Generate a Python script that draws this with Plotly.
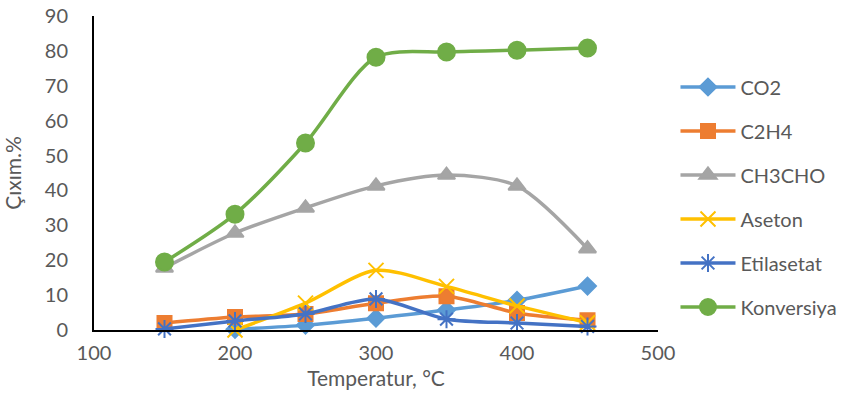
import plotly.graph_objects as go

temps = [150, 200, 250, 300, 350, 400, 450]
co2 = [None, 0.2, 1.4, 3.4, 5.7, 8.5, 12.6]
c2h4 = [2.0, 3.7, 4.6, 7.7, 9.7, 4.9, 2.8]
ch3cho = [17.8, 27.8, 35.0, 41.3, 44.4, 41.3, 23.3]
aseton = [None, 0.0, 7.7, 17.1, 12.5, 6.9, 2.1]
etilasetat = [0.3, 2.6, 4.6, 8.9, 3.1, 2.0, 1.0]
konversiya = [19.5, 33.2, 53.6, 78.2, 79.7, 80.2, 80.8]

series = [
    ("CO2", co2, "#5B9BD5", "diamond", 13),
    ("C2H4", c2h4, "#ED7D31", "square", 14),
    ("CH3CHO", ch3cho, "#A5A5A5", "triangle-up", 15),
    ("Aseton", aseton, "#FFC000", "x-thin-open", 15),
    ("Etilasetat", etilasetat, "#4472C4", "asterisk-open", 15),
    ("Konversiya", konversiya, "#70AD47", "circle", 17),
]

fig = go.Figure()
for i, (name, vals, color, sym, size) in enumerate(series):
    fig.add_trace(go.Scatter(
        x=temps, y=vals, name=name, mode="lines+markers",
        line=dict(color=color, width=3.5, shape="spline", smoothing=0.8),
        marker=dict(symbol=sym, size=size, color=color,
                    line=dict(color=color, width=2)),
        cliponaxis=False, connectgaps=False, legendgroup=f"g{i}",
    ))

font_c = "#595959"
fig.update_layout(
    width=855, height=400,
    margin=dict(l=94, r=197, t=16, b=70, autoexpand=False),
    paper_bgcolor="white", plot_bgcolor="white",
    font=dict(family="Lato, Open Sans, sans-serif", size=20, color=font_c),
    showlegend=True,
    legend=dict(x=1.031, y=0.836, xanchor="left", yanchor="top",
                font=dict(size=20, color=font_c), tracegroupgap=15,
                itemwidth=55, bgcolor="rgba(0,0,0,0)"),
    xaxis=dict(range=[100, 500], dtick=100, tick0=100, showgrid=False,
               zeroline=False, showline=True, linecolor="black", linewidth=2,
               ticks="", ticklabelstandoff=4, automargin=False,
               title=dict(text="Temperatur, °C", font=dict(size=21, color=font_c), standoff=8)),
    yaxis=dict(range=[0, 90], dtick=10, showgrid=False, zeroline=False,
               showline=True, linecolor="black", linewidth=2, ticks="",
               ticklabelstandoff=20, automargin=False,
               title=dict(text="Çıxım.%", font=dict(size=21, color=font_c), standoff=20)),
)

fig.write_html("out.html")
